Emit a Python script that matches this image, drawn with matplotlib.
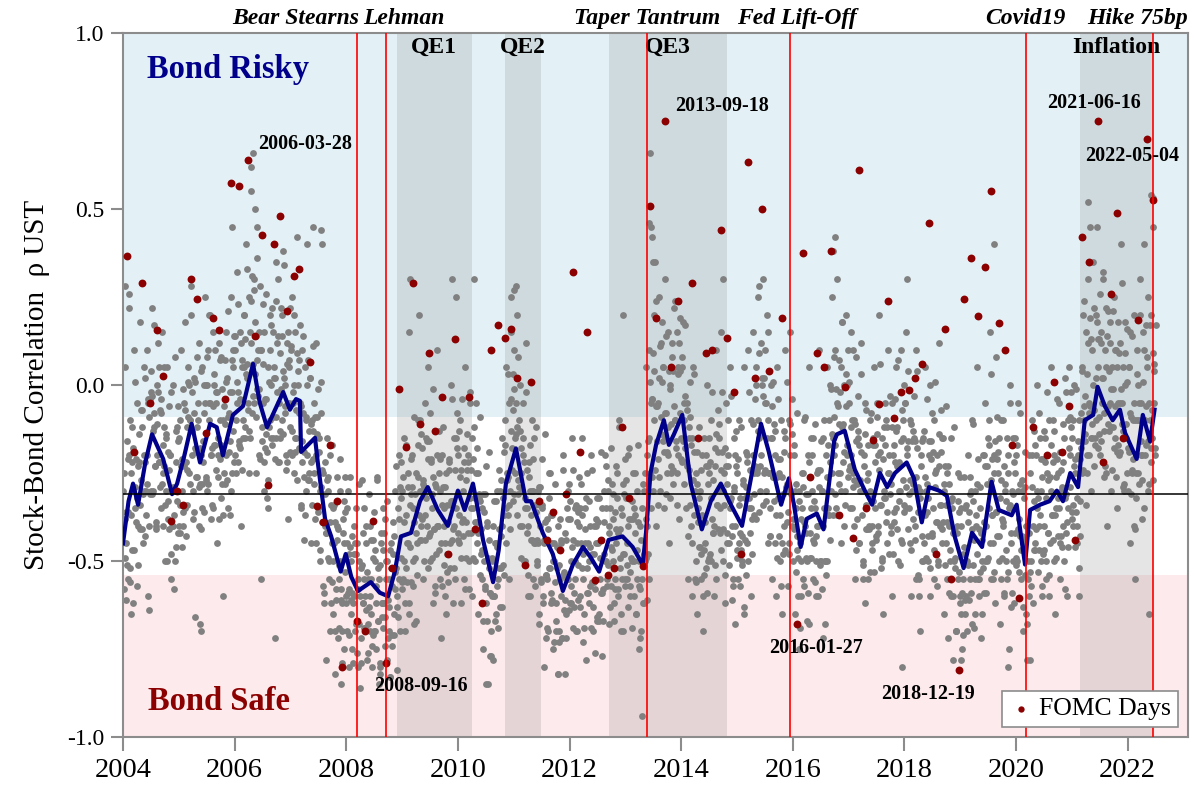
import numpy as np
import pandas as pd
import matplotlib
matplotlib.use('Agg')
from matplotlib import pyplot as plt
from matplotlib.transforms import blended_transform_factory

plt.rcParams['font.family'] = ['Liberation Serif', 'DejaVu Serif']
plt.rcParams['axes.unicode_minus'] = False

# rolling stock-bond correlation (blue line)
roll_t = [2004.0, 2004.1, 2004.18, 2004.27, 2004.4, 2004.52, 2004.72, 2004.88, 2004.97, 2005.1,
          2005.23, 2005.38, 2005.56, 2005.68, 2005.79, 2005.97, 2006.15, 2006.33, 2006.45, 2006.58,
          2006.87, 2006.99, 2007.1, 2007.17, 2007.19, 2007.44, 2007.49, 2007.62, 2007.73, 2007.9,
          2007.99, 2008.09, 2008.21, 2008.44, 2008.6, 2008.75, 2008.87, 2008.98, 2009.16, 2009.32,
          2009.46, 2009.64, 2009.82, 2010.0, 2010.12, 2010.27, 2010.36, 2010.45, 2010.63, 2010.73,
          2010.86, 2011.04, 2011.22, 2011.31, 2011.52, 2011.7, 2011.88, 2012.06, 2012.24, 2012.38,
          2012.53, 2012.7, 2012.95, 2013.13, 2013.31, 2013.37, 2013.45, 2013.55, 2013.69, 2013.78,
          2013.87, 2014.02, 2014.17, 2014.37, 2014.53, 2014.71, 2014.89, 2015.09, 2015.25, 2015.43,
          2015.57, 2015.79, 2015.93, 2016.02, 2016.14, 2016.25, 2016.43, 2016.55, 2016.74, 2016.79,
          2016.93, 2017.11, 2017.29, 2017.42, 2017.56, 2017.69, 2017.83, 2018.04, 2018.17, 2018.31,
          2018.44, 2018.62, 2018.76, 2018.9, 2019.06, 2019.21, 2019.39, 2019.56, 2019.69, 2019.92,
          2020.01, 2020.16, 2020.25, 2020.43, 2020.6, 2020.73, 2020.84, 2020.97, 2021.11, 2021.23,
          2021.38, 2021.46, 2021.59, 2021.73, 2021.86, 2021.95, 2022.16, 2022.27, 2022.4, 2022.48]
roll_v = [-0.45, -0.33, -0.28, -0.34, -0.22, -0.14, -0.21, -0.31, -0.28, -0.2,
          -0.11, -0.22, -0.11, -0.12, -0.2, -0.085, -0.06, 0.06, -0.05, -0.12,
          -0.02, -0.07, -0.04, -0.045, -0.19, -0.15, -0.22, -0.38, -0.43, -0.53,
          -0.48, -0.545, -0.585, -0.56, -0.59, -0.6, -0.53, -0.43, -0.42, -0.33,
          -0.29, -0.355, -0.4, -0.3, -0.355, -0.28, -0.355, -0.44, -0.56, -0.47,
          -0.28, -0.18, -0.33, -0.33, -0.42, -0.48, -0.585, -0.51, -0.46, -0.49,
          -0.53, -0.44, -0.43, -0.46, -0.51, -0.42, -0.25, -0.17, -0.1, -0.17,
          -0.14, -0.085, -0.28, -0.41, -0.33, -0.28, -0.34, -0.4, -0.265, -0.11,
          -0.19, -0.34, -0.265, -0.34, -0.46, -0.38, -0.365, -0.41, -0.16, -0.14,
          -0.13, -0.24, -0.3, -0.34, -0.25, -0.29, -0.25, -0.22, -0.265, -0.39,
          -0.29, -0.3, -0.315, -0.43, -0.52, -0.42, -0.46, -0.275, -0.355, -0.37,
          -0.34, -0.51, -0.355, -0.34, -0.33, -0.3, -0.33, -0.25, -0.29, -0.1,
          -0.085, -0.005, -0.06, -0.1, -0.07, -0.135, -0.21, -0.085, -0.16, -0.07]

# daily correlations (gray), first batch: six readings per month, one list per year
gray_2004 = [-0.30, -0.58, 0.05, -0.45, -0.36, -0.51, -0.21, 0.26, -0.52, -0.10, -0.37, -0.22,
             -0.62, -0.18, 0.10, -0.35, -0.21, -0.32, -0.05, -0.40, -0.22, 0.18, -0.41, -0.27,
             -0.12, -0.45, 0.05, -0.30, -0.22, -0.30, 0.10, -0.28, -0.05, -0.64, -0.04, -0.30,
             -0.02, 0.22, -0.30, -0.12, -0.08, -0.23, -0.40, 0.00, -0.20, 0.12, -0.22, -0.07,
             -0.08, -0.35, 0.15, -0.25, -0.12, -0.23, -0.50, -0.15, 0.05, -0.33, -0.38, -0.24,
             -0.20, -0.55, -0.02, -0.40, -0.29, -0.37, 0.08, -0.30, -0.46, -0.12, -0.16, -0.42]
gray_2005 = [-0.15, -0.42, 0.10, -0.30, -0.21, -0.36, -0.05, -0.35, 0.18, -0.22, -0.24, -0.09,
             0.05, -0.25, -0.10, 0.28, -0.02, -0.13, -0.30, 0.02, -0.18, -0.66, -0.26, -0.12,
             -0.10, -0.40, 0.12, -0.28, -0.20, -0.28, 0.05, -0.22, -0.08, 0.25, 0.00, -0.26,
             -0.30, 0.10, -0.05, 0.20, -0.05, -0.20, -0.18, 0.15, -0.35, 0.00, -0.17, -0.02,
             -0.05, -0.45, -0.20, 0.12, -0.10, -0.21, 0.08, -0.28, -0.60, -0.10, -0.25, -0.11,
             0.15, -0.20, 0.02, -0.35, -0.08, -0.16, -0.02, 0.25, -0.25, 0.10, 0.05, -0.22]
gray_2006 = [0.10, -0.25, 0.32, -0.05, -0.02, -0.17, -0.18, 0.15, -0.40, 0.05, -0.10, 0.05,
             0.20, -0.12, 0.40, 0.02, 0.06, -0.05, 0.25, -0.15, 0.12, 0.55, -0.08, 0.06,
             0.30, -0.05, 0.18, -0.25, 0.07, -0.01, 0.10, -0.20, 0.28, -0.55, 0.10, -0.16,
             -0.05, -0.30, 0.15, -0.18, -0.04, -0.19, 0.05, -0.35, -0.12, 0.20, -0.15, 0.00,
             0.22, -0.15, 0.05, -0.72, 0.02, -0.09, 0.12, -0.22, 0.30, -0.05, -0.15, -0.01,
             0.20, -0.10, 0.38, 0.02, 0.00, -0.08, -0.20, 0.12, -0.38, 0.05, 0.07, -0.19]
gray_2007 = [0.10, -0.20, 0.25, -0.05, 0.00, -0.15, 0.15, -0.15, 0.42, 0.00, -0.08, 0.07,
             -0.05, -0.35, 0.10, -0.22, -0.08, -0.19, 0.05, -0.30, -0.10, 0.40, -0.27, -0.13,
             -0.25, 0.02, -0.45, -0.10, -0.13, -0.21, -0.05, -0.38, -0.20, 0.12, -0.09, -0.35,
             -0.15, -0.50, -0.30, -0.08, -0.24, -0.39, -0.25, -0.62, -0.40, -0.78, -0.42, -0.27,
             -0.30, -0.55, -0.70, -0.20, -0.34, -0.45, -0.35, -0.65, -0.45, -0.82, -0.58, -0.44,
             -0.40, -0.72, -0.55, -0.30, -0.50, -0.58, -0.62, -0.38, -0.75, -0.45, -0.36, -0.62]
gray_2008 = [-0.45, -0.70, -0.30, -0.58, -0.46, -0.61, -0.50, -0.75, -0.62, -0.40, -0.60, -0.45,
             -0.68, -0.45, -0.80, -0.55, -0.50, -0.60, -0.52, -0.72, -0.27, -0.62, -0.69, -0.55,
             -0.60, -0.45, -0.78, -0.68, -0.55, -0.63, -0.40, -0.65, -0.55, -0.74, -0.44, -0.70,
             -0.70, -0.50, -0.62, -0.26, -0.52, -0.67, -0.55, -0.80, -0.45, -0.66, -0.62, -0.47,
             -0.62, -0.38, -0.74, -0.50, -0.50, -0.61, -0.70, -0.55, -0.83, -0.45, -0.71, -0.57,
             -0.48, -0.65, -0.30, -0.58, -0.52, -0.60, -0.35, -0.55, -0.20, -0.70, -0.32, -0.58]
gray_2009 = [-0.30, -0.55, -0.15, -0.70, -0.37, -0.52, -0.45, -0.25, -0.62, 0.15, -0.46, -0.31,
             -0.20, -0.50, -0.35, -0.68, -0.31, -0.42, -0.25, -0.45, -0.10, 0.20, -0.44, -0.30,
             -0.40, -0.18, -0.55, -0.28, -0.29, -0.37, -0.15, -0.40, -0.30, 0.05, -0.16, -0.42,
             -0.50, -0.22, -0.35, -0.62, -0.26, -0.41, -0.28, -0.48, 0.10, -0.40, -0.40, -0.25,
             -0.55, -0.30, -0.72, -0.20, -0.29, -0.40, -0.35, -0.60, -0.25, -0.48, -0.53, -0.39,
             -0.22, -0.45, 0.00, -0.33, -0.33, -0.41, -0.40, -0.15, -0.55, 0.25, -0.18, -0.44]
gray_2010 = [-0.20, -0.45, -0.10, -0.62, -0.24, -0.39, -0.30, -0.55, -0.18, 0.05, -0.39, -0.24,
             -0.42, -0.20, -0.58, -0.05, -0.24, -0.35, -0.15, -0.35, 0.30, -0.50, -0.39, -0.25,
             -0.45, -0.25, -0.65, -0.32, -0.33, -0.41, -0.55, -0.35, -0.75, -0.50, -0.31, -0.57,
             -0.62, -0.40, -0.85, -0.52, -0.44, -0.59, -0.70, -0.50, -0.60, -0.78, -0.60, -0.45,
             -0.45, -0.65, -0.30, -0.55, -0.41, -0.52, -0.30, -0.52, -0.15, -0.40, -0.51, -0.37,
             -0.10, -0.35, 0.05, -0.25, -0.26, -0.34, -0.05, -0.30, 0.15, -0.18, -0.07, -0.33]
gray_2011 = [0.10, -0.15, 0.28, -0.05, -0.12, -0.27, -0.10, -0.40, 0.00, -0.25, -0.30, -0.15,
             -0.20, -0.50, -0.35, 0.12, -0.24, -0.35, -0.40, -0.22, -0.60, -0.30, -0.44, -0.30,
             -0.30, -0.55, -0.15, -0.45, -0.36, -0.44, -0.50, -0.30, -0.68, -0.40, -0.29, -0.55,
             -0.35, -0.60, -0.45, -0.80, -0.39, -0.54, -0.55, -0.38, -0.70, -0.25, -0.52, -0.37,
             -0.62, -0.45, -0.75, -0.50, -0.45, -0.56, -0.70, -0.52, -0.82, -0.40, -0.70, -0.55,
             -0.60, -0.45, -0.72, -0.20, -0.53, -0.61, -0.42, -0.65, -0.55, -0.30, -0.38, -0.64]
gray_2012 = [-0.38, -0.62, -0.50, -0.15, -0.44, -0.59, -0.55, -0.35, -0.70, -0.45, -0.51, -0.36,
             -0.40, -0.60, -0.28, -0.52, -0.37, -0.48, -0.65, -0.45, -0.35, -0.78, -0.59, -0.45,
             -0.50, -0.62, -0.40, -0.20, -0.48, -0.56, -0.70, -0.48, -0.58, -0.38, -0.40, -0.66,
             -0.45, -0.65, -0.32, -0.55, -0.44, -0.59, -0.35, -0.58, -0.48, -0.20, -0.50, -0.35,
             -0.55, -0.30, -0.68, -0.42, -0.35, -0.46, -0.28, -0.50, -0.38, -0.62, -0.55, -0.41,
             -0.45, -0.25, -0.58, -0.10, -0.41, -0.49, -0.35, -0.55, -0.48, -0.70, -0.31, -0.57]
gray_2013 = [-0.32, -0.55, -0.45, -0.20, -0.38, -0.53, -0.60, -0.38, -0.50, -0.25, -0.50, -0.35,
             -0.42, -0.65, -0.30, -0.55, -0.39, -0.50, -0.58, -0.40, -0.70, -0.94, -0.62, -0.48,
             -0.30, -0.50, 0.05, -0.20, -0.40, -0.48, 0.10, -0.25, 0.45, -0.05, -0.04, -0.30,
             0.20, -0.10, 0.35, -0.40, -0.06, -0.21, -0.05, 0.25, -0.30, 0.12, -0.14, 0.01,
             0.05, -0.35, 0.30, -0.15, -0.08, -0.19, -0.20, 0.15, -0.45, 0.00, -0.25, -0.11,
             0.08, -0.28, 0.22, -0.10, -0.10, -0.18, 0.15, -0.20, 0.05, -0.38, 0.04, -0.21]
gray_2014 = [0.05, -0.22, 0.18, -0.10, -0.03, -0.18, -0.35, -0.05, -0.55, -0.15, -0.24, -0.09,
             -0.40, -0.15, -0.60, 0.05, -0.19, -0.30, -0.50, -0.25, -0.65, -0.35, -0.46, -0.32,
             -0.30, -0.55, -0.20, -0.70, -0.39, -0.47, -0.45, -0.20, -0.52, 0.00, -0.23, -0.49,
             -0.25, -0.48, -0.10, -0.38, -0.27, -0.42, -0.40, -0.18, 0.10, -0.55, -0.34, -0.19,
             -0.15, -0.42, -0.30, 0.15, -0.19, -0.30, -0.50, -0.25, -0.62, -0.05, -0.42, -0.28,
             -0.20, -0.45, 0.05, -0.35, -0.32, -0.40, -0.55, -0.30, -0.15, -0.68, -0.23, -0.49]
gray_2015 = [-0.25, -0.55, -0.10, -0.42, -0.32, -0.47, -0.50, -0.28, -0.65, 0.05, -0.44, -0.29,
             -0.20, -0.45, 0.10, -0.35, -0.24, -0.35, -0.10, -0.38, 0.15, -0.25, -0.37, -0.23,
             0.05, -0.25, 0.25, -0.10, -0.15, -0.23, 0.12, -0.20, 0.00, 0.30, 0.02, -0.24,
             -0.05, -0.30, 0.20, -0.45, -0.10, -0.25, -0.35, 0.00, -0.15, -0.55, -0.26, -0.11,
             -0.45, -0.20, -0.60, 0.05, -0.21, -0.32, -0.25, -0.50, -0.10, -0.65, -0.45, -0.31,
             -0.40, -0.15, 0.10, -0.30, -0.28, -0.36, -0.10, -0.45, 0.15, -0.30, -0.14, -0.40]
gray_2016 = [-0.50, -0.20, -0.65, -0.35, -0.28, -0.43, -0.60, -0.30, -0.75, -0.45, -0.50, -0.35,
             -0.25, -0.55, -0.10, -0.40, -0.31, -0.42, -0.50, -0.20, -0.68, 0.05, -0.49, -0.35,
             -0.30, -0.55, -0.15, -0.45, -0.35, -0.43, -0.60, -0.25, -0.40, 0.10, -0.24, -0.50,
             -0.50, -0.30, -0.72, -0.15, -0.35, -0.50, -0.20, -0.50, 0.05, -0.35, -0.37, -0.22,
             0.00, -0.30, 0.25, -0.15, -0.09, -0.20, 0.10, -0.35, 0.30, -0.05, -0.25, -0.11,
             -0.25, 0.05, -0.45, 0.18, -0.11, -0.19, 0.00, -0.30, 0.20, -0.20, 0.00, -0.26]
gray_2017 = [-0.05, -0.35, 0.15, -0.20, -0.10, -0.25, -0.40, -0.10, -0.55, 0.08, -0.28, -0.13,
             -0.15, -0.45, -0.30, 0.12, -0.19, -0.30, -0.50, -0.20, -0.05, -0.62, -0.41, -0.27,
             -0.25, -0.55, -0.40, -0.10, -0.32, -0.40, -0.45, -0.15, 0.05, -0.35, -0.17, -0.43,
             -0.05, -0.40, -0.20, 0.20, -0.19, -0.34, -0.50, -0.15, -0.65, -0.30, -0.32, -0.17,
             -0.10, -0.45, 0.10, -0.25, -0.20, -0.31, -0.40, -0.05, -0.60, -0.20, -0.36, -0.22,
             0.05, -0.35, -0.12, -0.50, -0.22, -0.30, -0.30, 0.10, -0.45, -0.15, -0.10, -0.36]
gray_2018 = [-0.05, -0.35, 0.15, -0.20, -0.16, -0.31, -0.45, -0.10, -0.60, -0.30, -0.28, -0.13,
             -0.15, -0.40, 0.10, -0.55, -0.18, -0.29, -0.55, -0.30, -0.70, -0.20, -0.50, -0.36,
             -0.15, -0.45, 0.05, -0.30, -0.28, -0.36, -0.50, -0.20, -0.60, 0.00, -0.16, -0.42,
             -0.35, -0.10, -0.55, -0.25, -0.24, -0.39, -0.20, -0.50, 0.12, -0.40, -0.34, -0.19,
             -0.45, -0.15, -0.65, -0.30, -0.23, -0.34, -0.55, -0.25, -0.72, -0.40, -0.47, -0.33,
             -0.60, -0.35, -0.78, -0.50, -0.41, -0.49, -0.70, -0.40, -0.55, -0.25, -0.36, -0.62]
gray_2019 = [-0.65, -0.40, -0.75, -0.55, -0.46, -0.61, -0.35, -0.60, -0.50, -0.20, -0.51, -0.36,
             -0.55, -0.30, -0.68, -0.10, -0.33, -0.44, -0.30, -0.55, -0.40, 0.05, -0.55, -0.41,
             -0.60, -0.35, -0.72, -0.50, -0.44, -0.52, -0.20, -0.50, -0.05, -0.40, -0.23, -0.49,
             -0.10, -0.35, 0.15, -0.55, -0.21, -0.37, -0.45, -0.20, -0.62, 0.08, -0.36, -0.21,
             -0.25, -0.50, -0.15, -0.68, -0.27, -0.38, -0.40, -0.10, -0.60, -0.30, -0.47, -0.33,
             -0.55, -0.20, -0.75, 0.00, -0.34, -0.42, -0.30, -0.50, -0.15, -0.62, -0.25, -0.51]
gray_2020 = [-0.20, -0.50, -0.05, -0.38, -0.28, -0.43, -0.55, -0.30, -0.70, -0.45, -0.44, -0.29,
             -0.65, -0.40, -0.78, -0.55, -0.42, -0.53, -0.25, -0.50, -0.10, -0.62, -0.47, -0.33,
             -0.45, -0.20, -0.35, 0.00, -0.32, -0.40, -0.15, -0.50, -0.30, -0.60, -0.21, -0.47,
             -0.40, -0.15, -0.55, -0.25, -0.27, -0.42, -0.10, -0.45, -0.30, 0.05, -0.37, -0.22,
             -0.50, -0.20, -0.65, -0.35, -0.21, -0.32, -0.25, -0.05, -0.45, -0.30, -0.43, -0.29,
             -0.40, -0.15, -0.58, 0.02, -0.31, -0.39, -0.10, -0.35, 0.05, -0.20, -0.12, -0.38]
gray_2021 = [-0.15, -0.40, 0.00, -0.25, -0.21, -0.36, -0.45, -0.20, -0.60, -0.10, -0.33, -0.18,
             0.05, -0.25, 0.20, -0.10, -0.03, -0.14, 0.15, -0.20, 0.30, -0.05, -0.20, -0.06,
             -0.30, 0.10, -0.15, 0.35, -0.07, -0.15, 0.20, -0.10, 0.45, 0.05, 0.13, -0.14,
             -0.20, 0.15, -0.05, 0.30, 0.02, -0.13, 0.10, -0.25, 0.22, -0.40, -0.11, 0.04,
             -0.05, 0.18, -0.30, 0.05, -0.01, -0.12, 0.25, -0.15, 0.10, -0.35, -0.19, -0.05,
             -0.20, 0.12, -0.05, 0.40, -0.05, -0.13, 0.05, -0.30, 0.18, -0.15, 0.01, -0.25]
gray_2022 = [-0.30, 0.05, -0.45, 0.15, -0.09, -0.24, -0.10, -0.40, 0.20, -0.55, -0.25, -0.10,
             0.10, -0.25, -0.05, 0.30, -0.05, -0.16, -0.20, 0.15, 0.40, -0.35, -0.20, -0.06,
             0.05, -0.30, 0.25, -0.65, -0.10, -0.18, 0.20, -0.15, 0.53, -0.05, 0.06, -0.20]

# second batch of daily readings, six more per month, between the first ones
gray2_2004 = [-0.25, -0.49, -0.38, -0.61, -0.16, -0.55, -0.36, -0.20, -0.56, -0.25, -0.47, -0.12,
              -0.19, -0.47, -0.29, 0.01, -0.39, -0.57, -0.51, -0.23, -0.14, -0.34, -0.07, -0.41,
              -0.07, -0.31, -0.20, -0.43, 0.02, -0.37, -0.20, -0.04, -0.40, -0.09, -0.31, 0.04,
              -0.03, -0.31, -0.13, 0.17, -0.23, -0.41, -0.39, -0.11, -0.02, -0.22, 0.05, -0.29,
              -0.04, -0.28, -0.17, -0.40, 0.05, -0.34, -0.30, -0.14, -0.50, -0.19, -0.41, -0.06,
              -0.20, -0.48, -0.30, 0.00, -0.40, -0.58, -0.50, -0.22, -0.13, -0.33, -0.06, -0.40]
gray2_2005 = [-0.10, -0.34, -0.23, -0.46, -0.01, -0.40, -0.23, -0.07, -0.43, -0.12, -0.34, 0.01,
              0.00, -0.28, -0.10, 0.20, -0.20, -0.38, -0.36, -0.08, 0.01, -0.19, 0.08, -0.26,
              -0.05, -0.29, -0.18, -0.41, 0.04, -0.35, -0.16, 0.00, -0.36, -0.05, -0.27, 0.08,
              0.00, -0.28, -0.10, 0.20, -0.20, -0.38, -0.34, -0.06, 0.03, -0.17, 0.10, -0.24,
              -0.02, -0.26, -0.15, -0.38, 0.07, -0.32, -0.17, -0.01, -0.37, -0.06, -0.28, 0.07,
              0.01, -0.27, -0.09, 0.21, -0.19, -0.37, -0.30, -0.02, 0.07, -0.13, 0.14, -0.20]
gray2_2006 = [0.14, -0.10, 0.01, -0.22, 0.23, -0.16, -0.04, 0.12, -0.24, 0.07, -0.15, 0.20,
              0.13, -0.15, 0.03, 0.33, -0.07, -0.25, -0.13, 0.15, 0.24, 0.04, 0.31, -0.03,
              0.27, 0.03, 0.14, -0.09, 0.36, -0.03, -0.01, 0.15, -0.21, 0.10, -0.12, 0.23,
              0.06, -0.22, -0.04, 0.26, -0.14, -0.32, -0.27, 0.01, 0.10, -0.10, 0.17, -0.17,
              0.15, -0.09, 0.02, -0.21, 0.24, -0.15, -0.02, 0.14, -0.22, 0.09, -0.13, 0.22,
              0.14, -0.14, 0.04, 0.34, -0.06, -0.24, -0.22, 0.06, 0.15, -0.05, 0.22, -0.12]
gray2_2007 = [0.11, -0.13, -0.02, -0.25, 0.20, -0.19, -0.07, 0.09, -0.27, 0.04, -0.18, 0.17,
              -0.06, -0.34, -0.16, 0.14, -0.26, -0.44, -0.37, -0.09, 0.00, -0.20, 0.07, -0.27,
              0.02, -0.22, -0.11, -0.34, 0.11, -0.28, -0.25, -0.09, -0.45, -0.14, -0.36, -0.01,
              -0.19, -0.47, -0.29, 0.01, -0.39, -0.57, -0.59, -0.31, -0.22, -0.42, -0.15, -0.49,
              -0.26, -0.50, -0.39, -0.62, -0.17, -0.56, -0.50, -0.34, -0.70, -0.39, -0.61, -0.26,
              -0.41, -0.69, -0.51, -0.21, -0.61, -0.79, -0.70, -0.42, -0.33, -0.53, -0.26, -0.60]
gray2_2008 = [-0.35, -0.59, -0.48, -0.71, -0.26, -0.65, -0.59, -0.43, -0.79, -0.48, -0.70, -0.35,
              -0.48, -0.76, -0.58, -0.28, -0.68, -0.86, -0.79, -0.51, -0.42, -0.62, -0.35, -0.69,
              -0.40, -0.64, -0.53, -0.76, -0.31, -0.70, -0.60, -0.44, -0.80, -0.49, -0.71, -0.36,
              -0.47, -0.75, -0.57, -0.27, -0.67, -0.85, -0.79, -0.51, -0.42, -0.62, -0.35, -0.69,
              -0.42, -0.66, -0.55, -0.78, -0.33, -0.72, -0.63, -0.47, -0.83, -0.52, -0.74, -0.39,
              -0.43, -0.71, -0.53, -0.23, -0.63, -0.81, -0.66, -0.38, -0.29, -0.49, -0.22, -0.56]
gray2_2009 = [-0.26, -0.50, -0.39, -0.62, -0.17, -0.56, -0.45, -0.29, -0.65, -0.34, -0.56, -0.21,
              -0.29, -0.57, -0.39, -0.09, -0.49, -0.67, -0.54, -0.26, -0.17, -0.37, -0.10, -0.44,
              -0.14, -0.38, -0.27, -0.50, -0.05, -0.44, -0.32, -0.16, -0.52, -0.21, -0.43, -0.08,
              -0.21, -0.49, -0.31, -0.01, -0.41, -0.59, -0.57, -0.29, -0.20, -0.40, -0.13, -0.47,
              -0.21, -0.45, -0.34, -0.57, -0.12, -0.51, -0.45, -0.29, -0.65, -0.34, -0.56, -0.21,
              -0.24, -0.52, -0.34, -0.04, -0.44, -0.62, -0.52, -0.24, -0.15, -0.35, -0.08, -0.42]
gray2_2010 = [-0.13, -0.37, -0.26, -0.49, -0.04, -0.43, -0.38, -0.22, -0.58, -0.27, -0.49, -0.14,
              -0.22, -0.50, -0.32, -0.02, -0.42, -0.60, -0.49, -0.21, -0.12, -0.32, -0.05, -0.39,
              -0.18, -0.42, -0.31, -0.54, -0.09, -0.48, -0.47, -0.31, -0.67, -0.36, -0.58, -0.23,
              -0.39, -0.67, -0.49, -0.19, -0.59, -0.77, -0.77, -0.49, -0.40, -0.60, -0.33, -0.67,
              -0.33, -0.57, -0.46, -0.69, -0.24, -0.63, -0.43, -0.27, -0.63, -0.32, -0.54, -0.19,
              -0.17, -0.45, -0.27, 0.03, -0.37, -0.55, -0.41, -0.13, -0.04, -0.24, 0.03, -0.31]
gray2_2011 = [-0.01, -0.25, -0.14, -0.37, 0.08, -0.31, -0.29, -0.13, -0.49, -0.18, -0.40, -0.05,
              -0.22, -0.50, -0.32, -0.02, -0.42, -0.60, -0.54, -0.26, -0.17, -0.37, -0.10, -0.44,
              -0.21, -0.45, -0.34, -0.57, -0.12, -0.51, -0.45, -0.29, -0.65, -0.34, -0.56, -0.21,
              -0.34, -0.62, -0.44, -0.14, -0.54, -0.72, -0.69, -0.41, -0.32, -0.52, -0.25, -0.59,
              -0.37, -0.61, -0.50, -0.73, -0.28, -0.67, -0.62, -0.46, -0.82, -0.51, -0.73, -0.38,
              -0.44, -0.72, -0.54, -0.24, -0.64, -0.82, -0.72, -0.44, -0.35, -0.55, -0.28, -0.62]
gray2_2012 = [-0.33, -0.57, -0.46, -0.69, -0.24, -0.63, -0.50, -0.34, -0.70, -0.39, -0.61, -0.26,
              -0.35, -0.63, -0.45, -0.15, -0.55, -0.73, -0.69, -0.41, -0.32, -0.52, -0.25, -0.59,
              -0.33, -0.57, -0.46, -0.69, -0.24, -0.63, -0.56, -0.40, -0.76, -0.45, -0.67, -0.32,
              -0.39, -0.67, -0.49, -0.19, -0.59, -0.77, -0.67, -0.39, -0.30, -0.50, -0.23, -0.57,
              -0.27, -0.51, -0.40, -0.63, -0.18, -0.57, -0.47, -0.31, -0.67, -0.36, -0.58, -0.23,
              -0.32, -0.60, -0.42, -0.12, -0.52, -0.70, -0.65, -0.37, -0.28, -0.48, -0.21, -0.55]
gray2_2013 = [-0.27, -0.51, -0.40, -0.63, -0.18, -0.57, -0.49, -0.33, -0.69, -0.38, -0.60, -0.25,
              -0.37, -0.65, -0.47, -0.17, -0.57, -0.75, -0.72, -0.44, -0.35, -0.55, -0.28, -0.62,
              -0.25, -0.49, -0.38, -0.61, -0.16, -0.55, -0.15, 0.01, -0.35, -0.04, -0.26, 0.09,
              0.04, -0.24, -0.06, 0.24, -0.16, -0.34, -0.26, 0.02, 0.11, -0.09, 0.18, -0.16,
              0.05, -0.19, -0.08, -0.31, 0.14, -0.25, -0.12, 0.04, -0.32, -0.01, -0.23, 0.12,
              0.04, -0.24, -0.06, 0.24, -0.16, -0.34, -0.25, 0.03, 0.12, -0.08, 0.19, -0.15]
gray2_2014 = [0.08, -0.16, -0.05, -0.28, 0.17, -0.22, -0.23, -0.07, -0.43, -0.12, -0.34, 0.01,
              -0.17, -0.45, -0.27, 0.03, -0.37, -0.55, -0.56, -0.28, -0.19, -0.39, -0.12, -0.46,
              -0.24, -0.48, -0.37, -0.60, -0.15, -0.54, -0.39, -0.23, -0.59, -0.28, -0.50, -0.15,
              -0.22, -0.50, -0.32, -0.02, -0.42, -0.60, -0.51, -0.23, -0.14, -0.34, -0.07, -0.41,
              -0.11, -0.35, -0.24, -0.47, -0.02, -0.41, -0.34, -0.18, -0.54, -0.23, -0.45, -0.10,
              -0.23, -0.51, -0.33, -0.03, -0.43, -0.61, -0.57, -0.29, -0.20, -0.40, -0.13, -0.47]
gray2_2015 = [-0.21, -0.45, -0.34, -0.57, -0.12, -0.51, -0.43, -0.27, -0.63, -0.32, -0.54, -0.19,
              -0.22, -0.50, -0.32, -0.02, -0.42, -0.60, -0.48, -0.20, -0.11, -0.31, -0.04, -0.38,
              0.00, -0.24, -0.13, -0.36, 0.09, -0.30, -0.14, 0.02, -0.34, -0.03, -0.25, 0.10,
              -0.05, -0.33, -0.15, 0.15, -0.25, -0.43, -0.43, -0.15, -0.06, -0.26, 0.01, -0.33,
              -0.13, -0.37, -0.26, -0.49, -0.04, -0.43, -0.37, -0.21, -0.57, -0.26, -0.48, -0.13,
              -0.19, -0.47, -0.29, 0.01, -0.39, -0.57, -0.48, -0.20, -0.11, -0.31, -0.04, -0.38]
gray2_2016 = [-0.17, -0.41, -0.30, -0.53, -0.08, -0.47, -0.49, -0.33, -0.69, -0.38, -0.60, -0.25,
              -0.29, -0.57, -0.39, -0.09, -0.49, -0.67, -0.59, -0.31, -0.22, -0.42, -0.15, -0.49,
              -0.20, -0.44, -0.33, -0.56, -0.11, -0.50, -0.40, -0.24, -0.60, -0.29, -0.51, -0.16,
              -0.30, -0.58, -0.40, -0.10, -0.50, -0.68, -0.54, -0.26, -0.17, -0.37, -0.10, -0.44,
              -0.01, -0.25, -0.14, -0.37, 0.08, -0.31, -0.17, -0.01, -0.37, -0.06, -0.28, 0.07,
              -0.02, -0.30, -0.12, 0.18, -0.22, -0.40, -0.34, -0.06, 0.03, -0.17, 0.10, -0.24]
gray2_2017 = [0.01, -0.23, -0.12, -0.35, 0.10, -0.29, -0.27, -0.11, -0.47, -0.16, -0.38, -0.03,
              -0.17, -0.45, -0.27, 0.03, -0.37, -0.55, -0.51, -0.23, -0.14, -0.34, -0.07, -0.41,
              -0.17, -0.41, -0.30, -0.53, -0.08, -0.47, -0.33, -0.17, -0.53, -0.22, -0.44, -0.09,
              -0.14, -0.42, -0.24, 0.06, -0.34, -0.52, -0.49, -0.21, -0.12, -0.32, -0.05, -0.39,
              -0.12, -0.36, -0.25, -0.48, -0.03, -0.42, -0.28, -0.12, -0.48, -0.17, -0.39, -0.04,
              -0.13, -0.41, -0.23, 0.07, -0.33, -0.51, -0.44, -0.16, -0.07, -0.27, 0.00, -0.34]
gray2_2018 = [-0.05, -0.29, -0.18, -0.41, 0.04, -0.35, -0.27, -0.11, -0.47, -0.16, -0.38, -0.03,
              -0.16, -0.44, -0.26, 0.04, -0.36, -0.54, -0.60, -0.32, -0.23, -0.43, -0.16, -0.50,
              -0.13, -0.37, -0.26, -0.49, -0.04, -0.43, -0.32, -0.16, -0.52, -0.21, -0.43, -0.08,
              -0.19, -0.47, -0.29, 0.01, -0.39, -0.57, -0.51, -0.23, -0.14, -0.34, -0.07, -0.41,
              -0.15, -0.39, -0.28, -0.51, -0.06, -0.45, -0.39, -0.23, -0.59, -0.28, -0.50, -0.15,
              -0.32, -0.60, -0.42, -0.12, -0.52, -0.70, -0.70, -0.42, -0.33, -0.53, -0.26, -0.60]
gray2_2019 = [-0.35, -0.59, -0.48, -0.71, -0.26, -0.65, -0.50, -0.34, -0.70, -0.39, -0.61, -0.26,
              -0.31, -0.59, -0.41, -0.11, -0.51, -0.69, -0.65, -0.37, -0.28, -0.48, -0.21, -0.55,
              -0.29, -0.53, -0.42, -0.65, -0.20, -0.59, -0.39, -0.23, -0.59, -0.28, -0.50, -0.15,
              -0.17, -0.45, -0.27, 0.03, -0.37, -0.55, -0.53, -0.25, -0.16, -0.36, -0.09, -0.43,
              -0.19, -0.43, -0.32, -0.55, -0.10, -0.49, -0.39, -0.23, -0.59, -0.28, -0.50, -0.15,
              -0.25, -0.53, -0.35, -0.05, -0.45, -0.63, -0.59, -0.31, -0.22, -0.42, -0.15, -0.49]
gray2_2020 = [-0.17, -0.41, -0.30, -0.53, -0.08, -0.47, -0.43, -0.27, -0.63, -0.32, -0.54, -0.19,
              -0.40, -0.68, -0.50, -0.20, -0.60, -0.78, -0.57, -0.29, -0.20, -0.40, -0.13, -0.47,
              -0.17, -0.41, -0.30, -0.53, -0.08, -0.47, -0.37, -0.21, -0.57, -0.26, -0.48, -0.13,
              -0.22, -0.50, -0.32, -0.02, -0.42, -0.60, -0.54, -0.26, -0.17, -0.37, -0.10, -0.44,
              -0.13, -0.37, -0.26, -0.49, -0.04, -0.43, -0.35, -0.19, -0.55, -0.24, -0.46, -0.11,
              -0.22, -0.50, -0.32, -0.02, -0.42, -0.60, -0.46, -0.18, -0.09, -0.29, -0.02, -0.36]
gray2_2021 = [-0.10, -0.34, -0.23, -0.46, -0.01, -0.40, -0.32, -0.16, -0.52, -0.21, -0.43, -0.08,
              0.04, -0.24, -0.06, 0.24, -0.16, -0.34, -0.25, 0.03, 0.12, -0.08, 0.19, -0.15,
              0.13, -0.11, 0.00, -0.23, 0.22, -0.17, 0.02, 0.18, -0.18, 0.13, -0.09, 0.26,
              0.12, -0.16, 0.02, 0.32, -0.08, -0.26, -0.23, 0.05, 0.14, -0.06, 0.21, -0.13,
              0.12, -0.12, -0.01, -0.24, 0.21, -0.18, -0.06, 0.10, -0.26, 0.05, -0.17, 0.18,
              0.09, -0.19, -0.01, 0.29, -0.11, -0.29, -0.28, 0.00, 0.09, -0.11, 0.16, -0.18]
gray2_2022 = [0.05, -0.19, -0.08, -0.31, 0.14, -0.25, -0.21, -0.05, -0.41, -0.10, -0.32, 0.03,
              0.00, -0.28, -0.10, 0.20, -0.20, -0.38, -0.27, 0.01, 0.10, -0.10, 0.17, -0.17,
              0.08, -0.16, -0.05, -0.28, 0.17, -0.22, -0.07, 0.09, -0.27, 0.04, -0.18, 0.17]

# isolated extreme days
gray_extra_t = [2004.03, 2004.10, 2004.15, 2004.45, 2005.38, 2005.40, 2005.95, 2006.30, 2006.33, 2006.36,
                2006.40, 2006.75, 2007.40, 2007.55, 2007.57, 2007.90, 2008.05, 2008.60, 2009.15, 2009.90,
                2010.50, 2010.95, 2011.00, 2011.05, 2012.95, 2013.42, 2013.45, 2013.47, 2013.50, 2014.75,
                2016.72, 2016.76, 2017.95, 2018.05, 2019.02, 2019.60, 2021.28, 2021.32, 2022.42, 2022.46,
                2015.40, 2019.85]
gray_extra_v = [0.28, 0.22, -0.65, -0.60, -0.68, -0.70, 0.45, 0.62, 0.66, 0.50,
                0.45, 0.35, 0.45, 0.44, 0.40, -0.85, -0.80, -0.82, 0.30, 0.30,
                -0.85, 0.25, 0.27, 0.20, 0.20, 0.46, 0.66, 0.42, 0.35, 0.30,
                0.38, 0.42, -0.80, 0.30, -0.78, 0.40, 0.52, 0.45, 0.54, 0.45,
                0.28, -0.80]

# FOMC announcement days
fomc_t = [2004.07, 2004.20, 2004.34, 2004.48, 2004.61, 2004.72, 2004.86, 2004.97, 2005.08, 2005.22,
          2005.33, 2005.48, 2005.61, 2005.72, 2005.83, 2005.94, 2006.08, 2006.24, 2006.36, 2006.49,
          2006.59, 2006.70, 2006.81, 2006.93, 2007.06, 2007.15, 2007.35, 2007.47, 2007.58, 2007.70,
          2007.83, 2007.93, 2008.19, 2008.33, 2008.48, 2008.71, 2008.82, 2008.95, 2009.07, 2009.20,
          2009.32, 2009.48, 2009.59, 2009.71, 2009.83, 2009.95, 2010.20, 2010.31, 2010.44, 2010.59,
          2010.72, 2010.84, 2010.95, 2011.06, 2011.20, 2011.31, 2011.45, 2011.59, 2011.70, 2011.83,
          2011.93, 2012.06, 2012.19, 2012.31, 2012.46, 2012.57, 2012.69, 2012.80, 2012.94, 2013.07,
          2013.31, 2013.44, 2013.55, 2013.71, 2013.81, 2013.94, 2014.20, 2014.30, 2014.44, 2014.56,
          2014.71, 2014.82, 2014.95, 2015.07, 2015.20, 2015.32, 2015.45, 2015.57, 2015.81, 2016.07,
          2016.18, 2016.30, 2016.43, 2016.56, 2016.68, 2016.83, 2016.94, 2017.07, 2017.18, 2017.31,
          2017.43, 2017.54, 2017.70, 2017.81, 2017.93, 2018.08, 2018.19, 2018.31, 2018.44, 2018.57,
          2018.72, 2018.84, 2018.97, 2019.06, 2019.19, 2019.32, 2019.44, 2019.55, 2019.69, 2019.80,
          2019.92, 2020.05, 2020.30, 2020.55, 2020.68, 2020.82, 2020.94, 2021.05, 2021.18, 2021.30,
          2021.46, 2021.55, 2021.70, 2021.80, 2021.91, 2022.18, 2022.34, 2022.45]
fomc_v = [0.366, -0.19, 0.29, -0.05, 0.155, 0.025, -0.385, -0.30, -0.34, 0.30,
          0.245, -0.135, 0.19, 0.155, -0.04, 0.575, 0.565, 0.64, 0.14, 0.425,
          -0.285, 0.40, 0.48, 0.21, 0.31, 0.33, 0.065, -0.345, -0.39, -0.17,
          -0.33, -0.80, -0.67, -0.70, -0.385, -0.79, -0.52, -0.01, -0.175, 0.29,
          -0.11, 0.09, -0.13, -0.035, -0.48, 0.13, -0.035, -0.41, -0.62, 0.10,
          0.17, 0.135, 0.16, 0.02, -0.51, 0.01, -0.33, -0.44, -0.36, -0.47,
          -0.31, 0.32, -0.19, 0.15, -0.555, -0.44, -0.54, -0.52, -0.12, -0.32,
          -0.515, 0.51, 0.19, 0.75, 0.05, 0.24, 0.29, -0.15, 0.09, 0.10,
          0.44, 0.135, -0.02, -0.48, 0.635, 0.02, 0.50, 0.04, 0.19, -0.68,
          0.375, -0.26, 0.09, 0.05, 0.38, -0.37, -0.005, -0.435, 0.61, -0.35,
          -0.155, -0.055, 0.24, -0.095, -0.02, -0.015, 0.02, 0.06, 0.46, -0.48,
          0.16, -0.55, -0.81, 0.245, 0.36, 0.195, 0.335, 0.55, 0.175, 0.10,
          -0.17, -0.605, -0.12, -0.20, 0.01, -0.19, -0.06, -0.44, 0.42, 0.35,
          0.75, -0.22, 0.26, 0.49, -0.15, 0.185, 0.70, 0.525]

fomc_labels = ['2006-03-28', '2008-09-16', '2013-09-18', '2016-01-27',
               '2018-12-19', '2021-06-16', '2022-05-04']

event_names = ['Bear Stearns', 'Lehman', 'Taper Tantrum', 'Fed Lift-Off', 'Covid19', 'Hike 75bp']
event_dates = ['2008-03-14', '2008-09-15', '2013-05-22', '2015-12-16', '2020-03-03', '2022-06-15']

regime_names = ['QE1', 'QE2', 'QE3', 'Inflation']
regime_start = ['2008-11-25', '2010-11-03', '2012-09-13', '2021-02-22']
regime_end = ['2010-03-31', '2011-06-30', '2014-10-29', '2022-06-15']

corr_mean = -0.31
risky_level = -0.09
safe_level = -0.54


def to_year(s):
    d = pd.Timestamp(s)
    return d.year + (d.dayofyear - 0.5) / (366 if d.is_leap_year else 365)


years = list(range(2004, 2023))
batch1 = [gray_2004, gray_2005, gray_2006, gray_2007, gray_2008, gray_2009, gray_2010,
          gray_2011, gray_2012, gray_2013, gray_2014, gray_2015, gray_2016, gray_2017,
          gray_2018, gray_2019, gray_2020, gray_2021, gray_2022]
batch2 = [gray2_2004, gray2_2005, gray2_2006, gray2_2007, gray2_2008, gray2_2009, gray2_2010,
          gray2_2011, gray2_2012, gray2_2013, gray2_2014, gray2_2015, gray2_2016, gray2_2017,
          gray2_2018, gray2_2019, gray2_2020, gray2_2021, gray2_2022]
gray_t, gray_v = [], []
for yr, v1, v2 in zip(years, batch1, batch2):
    # six readings per month in each batch, the second batch half a step later
    gray_t += list(yr + (np.arange(len(v1)) + 0.5) / 72)
    gray_v += v1
    gray_t += list(yr + (np.arange(len(v2)) + 1.0) / 72)
    gray_v += v2
gray_t += gray_extra_t
gray_v += gray_extra_v

fig = plt.figure(figsize=(11.94, 7.92), dpi=100)
ax = fig.add_axes([0.103, 0.0694, 0.892, 0.8889])

# regimes
ax.axhspan(risky_level, 1, color='#E3F1F6', lw=0, zorder=0)
ax.axhspan(-1, safe_level, color='#FDEAEC', lw=0, zorder=0)
for s, e in zip(regime_start, regime_end):
    ax.axvspan(to_year(s), to_year(e), color='gray', alpha=0.2, lw=0, zorder=1)

ax.scatter(gray_t, gray_v, s=24, color='#808080', lw=0, zorder=2)
ax.plot(roll_t, roll_v, color='#00008B', lw=3.0, zorder=3)
fomc = ax.scatter(fomc_t, fomc_v, s=32, color='#8B0000', lw=0, zorder=4, label='FOMC Days')

ax.axhline(corr_mean, color='black', lw=1.1, zorder=5)
for d in event_dates:
    ax.axvline(to_year(d), color='red', lw=1.2, zorder=5)

# labels above the plot
trans = blended_transform_factory(ax.transData, ax.transAxes)
label_shift = [-1.1, 0.33, 0.0, 0.11, 0.0, -0.27]
for name, d, sh in zip(event_names, event_dates, label_shift):
    ax.text(to_year(d) + sh, 1.021, name, transform=trans, ha='center', va='center',
            fontsize=17, fontweight='bold', fontstyle='italic')
for name, s, e in zip(regime_names, regime_start, regime_end):
    ax.text((to_year(s) + to_year(e)) / 2, 0.98, name, transform=trans, ha='center', va='center',
            fontsize=17, fontweight='bold')

# notable FOMC days
label_offsets = [(57, 16), (35, -23), (57, 15), (19, -24), (-31, -24), (-4, 18), (-15, -17)]
ft = np.array(fomc_t)
for lab, off in zip(fomc_labels, label_offsets):
    i = int(np.argmin(np.abs(ft - to_year(lab))))
    ax.annotate(lab, (fomc_t[i], fomc_v[i]), xytext=off, textcoords='offset pixels',
                ha='center', va='center', fontsize=14.5, fontweight='bold', zorder=6)

ax.text(2004.43, 0.895, 'Bond Risky', color='#00008B', fontsize=23.5, fontweight='bold',
        ha='left', va='center')
ax.text(2004.45, -0.90, 'Bond Safe', color='#8B0000', fontsize=23.5, fontweight='bold',
        ha='left', va='center')

ax.set_xlim(2004, 2023.08)
ax.set_ylim(-1, 1)
ax.set_xticks(range(2004, 2023, 2))
ax.set_yticks([-1, -0.5, 0, 0.5, 1])
ax.set_yticklabels(['-1.0', '-0.5', '0.0', '0.5', '1.0'])
ax.tick_params(axis='x', labelsize=20.5, length=10, width=1.5, color='#8c8c8c', pad=5)
ax.tick_params(axis='y', labelsize=17, length=8.6, width=1.5, color='#8c8c8c', pad=5)
for sp in ax.spines.values():
    sp.set_color('#8c8c8c')
    sp.set_linewidth(1.5)
ax.set_ylabel('Stock-Bond Correlation  \u03c1 UST', fontsize=21, labelpad=12)

leg = ax.legend(handles=[fomc], loc='lower right', fontsize=18.5, fancybox=False,
                edgecolor='#8c8c8c', framealpha=1, borderaxespad=0.4, borderpad=0.25,
                handletextpad=0.2, handlelength=1.0, markerscale=0.8)
leg.get_frame().set_linewidth(1.2)

plt.savefig('out.png', dpi=100)
